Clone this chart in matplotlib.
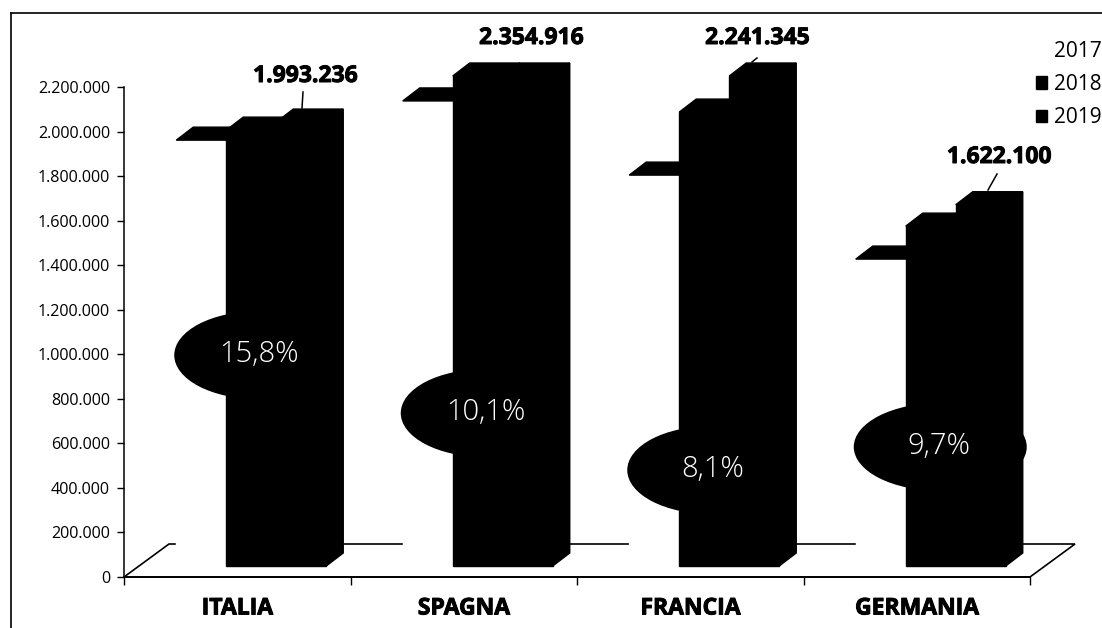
import matplotlib
matplotlib.use('Agg')
import matplotlib.pyplot as plt
import matplotlib.patheffects as pe
from matplotlib.lines import Line2D
from matplotlib.patches import Ellipse, Patch, Polygon

countries = ['ITALIA', 'SPAGNA', 'FRANCIA', 'GERMANIA']
years = ['2017', '2018', '2019']
values_2017 = [1912000, 2088000, 1755000, 1378000]
values_2018 = [1957000, 2300000, 2038000, 1526000]
values_2019 = [1993236, 2354916, 2241345, 1622100]
growth = ['15,8%', '10,1%', '8,1%', '9,7%']
growth_y = [996000, 736000, 480000, 584000]
y_ticks = [0, 200000, 400000, 600000, 800000, 1000000, 1200000, 1400000, 1600000, 1800000, 2000000, 2200000]

Y_MAX = 2200000
W, H = 1102, 628
AX_L, AX_R, AX_T, AX_B = 124, 1030, 87, 577

# pixels to data units, the fake 3D depth is set in pixels
SX = 4.0 / (AX_R - AX_L)
SY = Y_MAX / (AX_B - AX_T)
DEPTH_X, DEPTH_Y = 17 * SX, 13 * SY
FLOOR_X, FLOOR_Y = 45 * SX, 33 * SY
BASE = 11 * SY
BAR_W = 50 * SX
GROUP_SHIFT = 14 * SX

plt.rcParams['font.family'] = ['Open Sans', 'DejaVu Sans']

fig = plt.figure(figsize=(W / 100, H / 100), dpi=100)
ax = fig.add_axes([AX_L / W, 1 - AX_B / H, (AX_R - AX_L) / W, (AX_B - AX_T) / H])
ax.set_xlim(-0.5, 3.5)
ax.set_ylim(0, Y_MAX)
ax.spines['top'].set_visible(False)
ax.spines['right'].set_visible(False)
ax.spines['left'].set_linewidth(1.1)
ax.spines['bottom'].set_linewidth(1.3)

heavy = [pe.withStroke(linewidth=0.7, foreground='black')]


def fmt(v):
    return f'{v:,}'.replace(',', '.')


def bar3d(x, value, front, top):
    # values above the axis maximum get cut off flat
    v = min(value, Y_MAX)
    y0 = BASE
    y1 = BASE + v
    x1 = x + BAR_W
    dx, dy = DEPTH_X, DEPTH_Y
    faces = [
        ([(x, y0), (x1, y0), (x1, y1), (x, y1)], front),
        ([(x1, y0), (x1 + dx, y0 + dy), (x1 + dx, y1 + dy), (x1, y1)], front),
        ([(x, y1), (x1, y1), (x1 + dx, y1 + dy), (x + dx, y1 + dy)], top),
    ]
    for pts, col in faces:
        ax.add_patch(Polygon(pts, closed=True, fc=col, ec=col, lw=1.0, zorder=3, clip_on=False))


# floor of the chart
floor = [(-0.5, 0), (3.5, 0), (3.5 + FLOOR_X, FLOOR_Y), (-0.5 + FLOOR_X, FLOOR_Y)]
ax.add_patch(Polygon(floor, closed=True, fc='white', ec='black', lw=1.2, zorder=1, clip_on=False))

ellipse_w = [168, 168, 168, 173]
for i in range(len(countries)):
    left = i + GROUP_SHIFT - 1.5 * BAR_W
    bar3d(left, values_2017[i], 'white', 'black')
    bar3d(left + BAR_W, values_2018[i], 'black', 'black')
    bar3d(left + 2 * BAR_W, values_2019[i], 'black', 'black')
    ell_x = i + (ellipse_w[i] / 2 - 63) * SX
    ax.add_patch(Ellipse((ell_x, growth_y[i]), ellipse_w[i] * SX, 88 * SY, fc='black', ec='none', zorder=4))
    ax.text(i + 22 * SX, growth_y[i] + 1 * SY, growth[i], color='white', fontsize=21, fontweight='light',
            ha='center', va='center', zorder=5)

# value labels, three of them with a short leader
label_pos = [(305, 76), (531, 38), (757, 38), (999, 157)]
leader_top = [(303, 92), None, (757, 58), (997, 174)]
leader_end = [(302, 108), None, (752, 62), (988, 190)]
for i, v in enumerate(values_2019):
    lx, ly = label_pos[i]
    fig.text(lx / W, 1 - ly / H, fmt(v), fontsize=16.5, fontweight='bold', ha='center', va='center',
             path_effects=heavy)
    if leader_top[i] is not None:
        xs = [leader_top[i][0] / W, leader_end[i][0] / W]
        ys = [1 - leader_top[i][1] / H, 1 - leader_end[i][1] / H]
        fig.add_artist(Line2D(xs, ys, color='black', lw=1.1, zorder=6))

ax.set_yticks(y_ticks)
ax.set_yticklabels([fmt(t) for t in y_ticks])
ax.tick_params(axis='y', length=5, width=1, labelsize=11.6, pad=5)
ax.set_xticks([-0.5, 0.5, 1.5, 2.5, 3.5])
ax.set_xticklabels([])
ax.tick_params(axis='x', length=6, width=1)
ax.set_xticks(range(len(countries)), minor=True)
ax.set_xticklabels(countries, minor=True, fontweight='bold', fontsize=16.5, path_effects=heavy)
ax.tick_params(axis='x', which='minor', length=0, pad=14)

handles = [Patch(fc='white', ec='none'), Patch(fc='black', ec='black'), Patch(fc='black', ec='black')]
fig.legend(handles, years, loc='upper left', bbox_to_anchor=(1036 / W, 1 - 41 / H), frameon=False,
           fontsize=15, handlelength=0.55, handleheight=0.55, handletextpad=0.3, labelspacing=0.58,
           borderpad=0, borderaxespad=0)

# frame around the chart, open at the bottom and on the right
fig.add_artist(Line2D([11 / W, 1], [1 - 13 / H, 1 - 13 / H], color='black', lw=1.2))
fig.add_artist(Line2D([11 / W, 11 / W], [0, 1 - 13 / H], color='black', lw=1.2))

fig.savefig('out.png', dpi=100)
